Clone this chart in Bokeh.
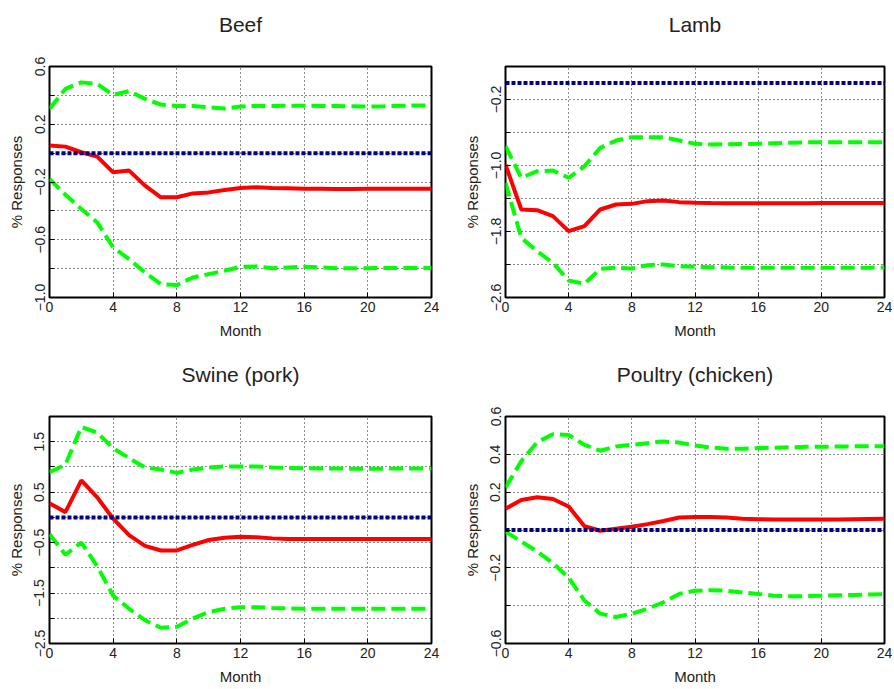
from bokeh.plotting import figure
from bokeh.models import Range1d, FixedTicker, Title
from bokeh.layouts import column, row
from bokeh.embed import file_html
from bokeh.resources import INLINE

months = list(range(25))
x_ticks = [0, 4, 8, 12, 16, 20, 24]

beef_irf = [0.052, 0.045, 0.006, -0.024, -0.133, -0.121, -0.225, -0.306, -0.306, -0.279, -0.272, -0.255, -0.242,
            -0.237, -0.242, -0.244, -0.246, -0.247, -0.248, -0.248, -0.247, -0.247, -0.246, -0.246, -0.246]
beef_upper = [0.306, 0.445, 0.490, 0.480, 0.403, 0.429, 0.376, 0.336, 0.327, 0.327, 0.318, 0.309, 0.323,
              0.327, 0.327, 0.328, 0.328, 0.327, 0.326, 0.325, 0.323, 0.325, 0.328, 0.330, 0.330]
beef_lower = [-0.179, -0.288, -0.387, -0.480, -0.653, -0.734, -0.827, -0.907, -0.914, -0.861, -0.838, -0.815, -0.787,
              -0.785, -0.797, -0.792, -0.787, -0.792, -0.797, -0.797, -0.797, -0.796, -0.795, -0.795, -0.795]

lamb_irf = [-0.99, -1.533, -1.541, -1.614, -1.796, -1.735, -1.533, -1.473, -1.465, -1.432, -1.424, -1.444, -1.452,
            -1.455, -1.457, -1.458, -1.458, -1.457, -1.457, -1.457, -1.456, -1.456, -1.456, -1.456, -1.456]
lamb_upper = [-0.766, -1.149, -1.069, -1.061, -1.149, -1.008, -0.786, -0.697, -0.657, -0.657, -0.657, -0.697, -0.737,
              -0.745, -0.742, -0.740, -0.737, -0.730, -0.725, -0.720, -0.718, -0.717, -0.717, -0.717, -0.717]
lamb_lower = [-1.21, -1.877, -2.038, -2.18, -2.394, -2.434, -2.253, -2.24, -2.248, -2.208, -2.2, -2.22, -2.228,
              -2.232, -2.236, -2.24, -2.24, -2.24, -2.24, -2.24, -2.24, -2.24, -2.24, -2.238, -2.236]

swine_irf = [0.279, 0.104, 0.734, 0.396, -0.026, -0.351, -0.565, -0.656, -0.656, -0.545, -0.448, -0.403, -0.383,
             -0.396, -0.416, -0.429, -0.429, -0.429, -0.429, -0.429, -0.429, -0.429, -0.429, -0.429, -0.429]
swine_upper = [0.896, 1.045, 1.792, 1.68, 1.37, 1.175, 0.99, 0.948, 0.883, 0.948, 0.99, 1.01, 1.01,
               1.01, 0.99, 0.98, 0.975, 0.97, 0.97, 0.965, 0.965, 0.965, 0.97, 0.97, 0.97]
swine_lower = [-0.331, -0.74, -0.5, -0.968, -1.552, -1.812, -2.039, -2.188, -2.169, -2.006, -1.877, -1.812, -1.779,
               -1.779, -1.795, -1.805, -1.812, -1.812, -1.812, -1.812, -1.812, -1.812, -1.812, -1.812, -1.812]

poultry_irf = [0.112, 0.159, 0.173, 0.164, 0.124, 0.02, -0.004, 0.007, 0.017, 0.031, 0.048, 0.066, 0.069,
               0.069, 0.066, 0.06, 0.057, 0.055, 0.055, 0.055, 0.055, 0.056, 0.057, 0.058, 0.059]
poultry_upper = [0.225, 0.364, 0.464, 0.506, 0.502, 0.45, 0.419, 0.442, 0.45, 0.459, 0.468, 0.462, 0.447,
                 0.436, 0.43, 0.43, 0.433, 0.435, 0.437, 0.44, 0.44, 0.441, 0.442, 0.443, 0.443]
poultry_lower = [-0.009, -0.061, -0.113, -0.174, -0.252, -0.373, -0.442, -0.46, -0.442, -0.416, -0.382, -0.338, -0.321,
                 -0.318, -0.321, -0.33, -0.338, -0.347, -0.35, -0.35, -0.347, -0.345, -0.343, -0.341, -0.339]

zero_line = [0.0] * 25

panels = [
    dict(title="Beef", irf=beef_irf, up=beef_upper, lo=beef_lower, yr=(-1.0, 0.6),
         grid=[-1.0, -0.8, -0.6, -0.4, -0.2, 0.0, 0.2, 0.4, 0.6], labels=[-1.0, -0.6, -0.2, 0.2, 0.6]),
    dict(title="Lamb", irf=lamb_irf, up=lamb_upper, lo=lamb_lower, yr=(-2.6, 0.2),
         grid=[-2.6, -2.2, -1.8, -1.4, -1.0, -0.6, -0.2, 0.2], labels=[-2.6, -1.8, -1.0, -0.2]),
    dict(title="Swine (pork)", irf=swine_irf, up=swine_upper, lo=swine_lower, yr=(-2.5, 2.0),
         grid=[-2.5, -2.0, -1.5, -1.0, -0.5, 0.0, 0.5, 1.0, 1.5, 2.0], labels=[-2.5, -1.5, -0.5, 0.5, 1.5]),
    dict(title="Poultry (chicken)", irf=poultry_irf, up=poultry_upper, lo=poultry_lower, yr=(-0.6, 0.6),
         grid=[-0.6, -0.4, -0.2, 0.0, 0.2, 0.4, 0.6], labels=[-0.6, -0.2, 0.2, 0.4, 0.6]),
]

FONT = "Liberation Sans"
TXT = "#222222"
# (width, height, border_left, border_right, border_top, border_bottom)
geo = [
    (460, 341, 49, 29, 66, 44),
    (432, 341, 42, 8, 66, 44),
    (460, 346, 49, 29, 75, 40),
    (432, 346, 42, 8, 75, 40),
]

figs = []
for pan, (w, h, bl, br, bt, bb) in zip(panels, geo):
    p = figure(width=w, height=h, output_backend="svg", toolbar_location=None,
               x_range=Range1d(0, 24), y_range=Range1d(*pan["yr"]),
               min_border_left=bl, min_border_right=br, min_border_top=bt, min_border_bottom=bb)
    p.title = Title(text=pan["title"], align="center", text_font=FONT, text_font_size="21px",
                    text_font_style="normal", text_color=TXT)
    # spacer between the frame and the title
    p.add_layout(Title(text=" ", text_font_size="12px"), "above")
    p.outline_line_color = "black"
    p.outline_line_width = 2
    p.outline_line_alpha = 1.0
    p.background_fill_color = "white"
    p.border_fill_color = "white"

    p.xaxis.ticker = FixedTicker(ticks=x_ticks)
    p.yaxis.ticker = FixedTicker(ticks=pan["labels"], minor_ticks=pan["grid"])
    p.yaxis.major_label_overrides = {v: f"{v:.1f}".replace("-", "\u2212") for v in pan["labels"]}
    p.xgrid.ticker = FixedTicker(ticks=x_ticks)
    p.ygrid.ticker = FixedTicker(ticks=pan["grid"])
    for g in (p.xgrid, p.ygrid):
        g.grid_line_color = "black"
        g.grid_line_dash = "1 3"
        g.grid_line_width = 1
        g.grid_line_alpha = 0.9

    for ax in (p.xaxis, p.yaxis):
        ax.axis_line_color = None
        ax.major_tick_in = 5
        ax.major_tick_out = 0
        ax.minor_tick_in = 5
        ax.minor_tick_out = 0
        ax.major_tick_line_color = "black"
        ax.minor_tick_line_color = "black"
        ax.major_label_text_font = FONT
        ax.major_label_text_font_size = "14px"
        ax.major_label_text_color = TXT
        ax.axis_label_text_font = FONT
        ax.axis_label_text_font_size = "15px"
        ax.axis_label_text_font_style = "normal"
        ax.axis_label_text_color = TXT
    p.xaxis.axis_label = "Month"
    p.xaxis.major_label_standoff = 4
    p.xaxis.axis_label_standoff = 7
    p.yaxis.axis_label = "% Responses"
    p.yaxis.major_label_orientation = "vertical"
    p.yaxis.major_label_standoff = 5
    p.yaxis.axis_label_standoff = 7

    p.line(months, pan["up"], line_color="#00ff00", line_width=4, line_dash="14 6")
    p.line(months, pan["lo"], line_color="#00ff00", line_width=4, line_dash="14 6")
    p.line(months, pan["irf"], line_color="#ff0000", line_width=4)
    p.line(months, zero_line, line_color="#000080", line_width=4, line_dash="4 2")
    figs.append(p)

layout = column(row(figs[0], figs[1]), row(figs[2], figs[3]))
open("out.html", "w").write(file_html(layout, INLINE))
